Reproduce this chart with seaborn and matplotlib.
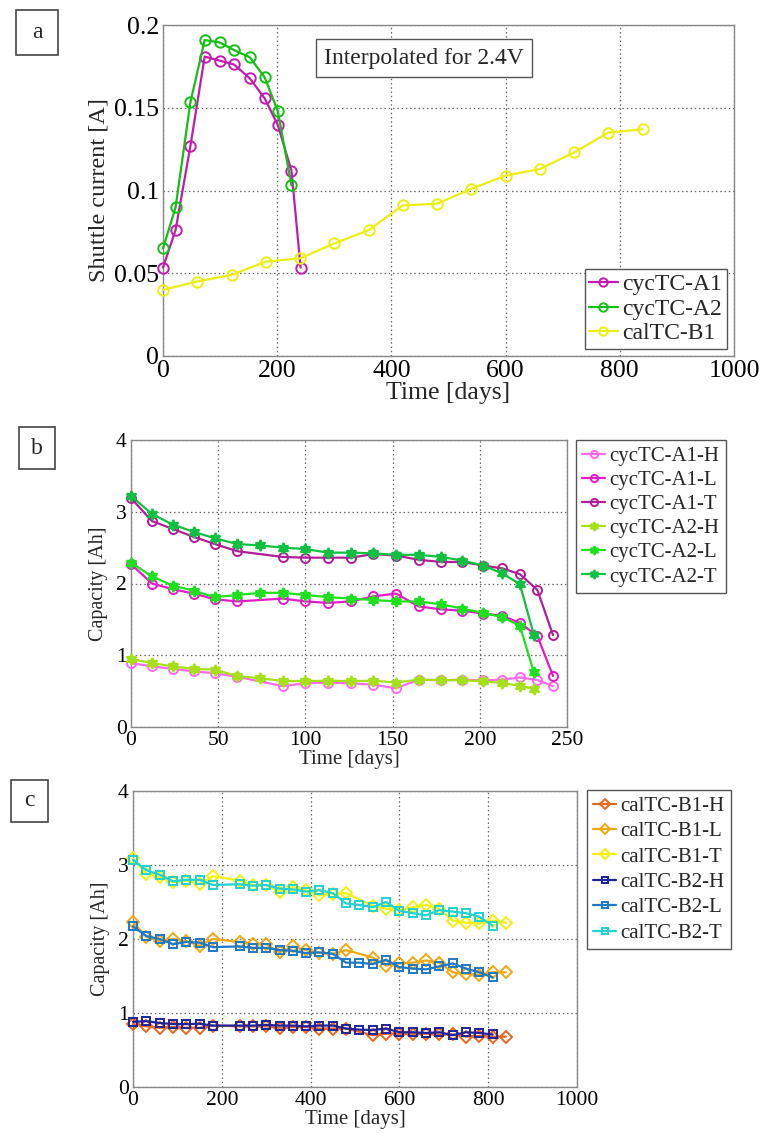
import matplotlib
matplotlib.use("Agg")
import matplotlib.pyplot as plt
import seaborn as sns
import numpy as np
from matplotlib.patches import Rectangle

sns.set_style("white")
plt.rcParams['font.family'] = ['Liberation Serif', 'DejaVu Serif']

# ---------------- Panel a: shuttle current ----------------
a_days_A1 = [0, 22, 48, 73, 99, 124, 152, 178, 201, 225, 241]
a_cur_A1 = [0.0534, 0.0761, 0.1269, 0.1809, 0.1785, 0.1762, 0.1678, 0.1557, 0.1396, 0.112, 0.0534]
a_days_A2 = [0, 22, 48, 73, 99, 124, 152, 178, 201, 225]
a_cur_A2 = [0.065, 0.0898, 0.1533, 0.1909, 0.1895, 0.1849, 0.1805, 0.1684, 0.148, 0.1031]
a_days_B1 = [0, 60, 120, 180, 240, 300, 360, 420, 480, 540, 600, 660, 720, 780, 840]
a_cur_B1 = [0.040, 0.045, 0.049, 0.057, 0.059, 0.068, 0.076, 0.091, 0.092, 0.101, 0.109, 0.113, 0.123, 0.135, 0.137]
a_labels = ['cycTC-A1', 'cycTC-A2', 'calTC-B1']
a_yticklabels = ['0', '0.05', '0.1', '0.15', '0.2']

# ---------------- Panel b: cycTC capacities ----------------
b_days_A1 = [0, 12, 24, 36, 48, 61, 87, 100, 113, 126, 139, 152, 165, 178, 190, 202, 213, 223, 233, 242]
b_days_A2 = [0, 12, 24, 36, 48, 61, 74, 87, 100, 113, 126, 139, 152, 165, 178, 190, 202, 213, 223, 231]
b_A1_H = [0.89, 0.845, 0.81, 0.775, 0.75, 0.70, 0.57, 0.61, 0.62, 0.61, 0.59, 0.54, 0.66, 0.65, 0.66, 0.65, 0.66, 0.69, 0.655, 0.57]
b_A1_L = [2.27, 2.00, 1.92, 1.86, 1.78, 1.75, 1.79, 1.75, 1.73, 1.75, 1.82, 1.86, 1.68, 1.64, 1.62, 1.58, 1.55, 1.45, 1.27, 0.71]
b_A1_T = [3.19, 2.87, 2.76, 2.65, 2.55, 2.45, 2.37, 2.36, 2.36, 2.36, 2.41, 2.39, 2.33, 2.30, 2.30, 2.25, 2.21, 2.13, 1.91, 1.28]
b_A2_H = [0.95, 0.89, 0.845, 0.81, 0.80, 0.71, 0.68, 0.64, 0.64, 0.645, 0.64, 0.645, 0.62, 0.66, 0.655, 0.65, 0.64, 0.61, 0.576, 0.53]
b_A2_L = [2.29, 2.10, 1.97, 1.90, 1.81, 1.84, 1.87, 1.87, 1.84, 1.81, 1.79, 1.77, 1.75, 1.75, 1.71, 1.65, 1.59, 1.53, 1.41, 0.76]
b_A2_T = [3.22, 2.97, 2.82, 2.72, 2.63, 2.55, 2.53, 2.50, 2.48, 2.43, 2.43, 2.42, 2.40, 2.40, 2.37, 2.32, 2.25, 2.14, 1.99, 1.28]
b_labels = ['cycTC-A1-H', 'cycTC-A1-L', 'cycTC-A1-T', 'cycTC-A2-H', 'cycTC-A2-L', 'cycTC-A2-T']

# ---------------- Panel c: calTC capacities ----------------
c_days_B1 = [0, 30, 60, 90, 120, 150, 180, 240, 270, 300, 330, 360, 390, 420, 450, 480,
             540, 570, 600, 630, 660, 690, 720, 750, 780, 810, 840]
c_days_B2 = [0, 30, 60, 90, 120, 150, 180, 240, 270, 300, 330, 360, 390, 420, 450, 480,
             510, 540, 570, 600, 630, 660, 690, 720, 750, 780, 810]
c_B1_H = [0.85, 0.82, 0.80, 0.81, 0.80, 0.80, 0.83, 0.82, 0.82, 0.82, 0.80, 0.81, 0.81, 0.79, 0.79, 0.79,
          0.70, 0.72, 0.72, 0.72, 0.72, 0.71, 0.71, 0.68, 0.69, 0.68, 0.68]
c_B1_L = [2.23, 2.03, 1.97, 2.00, 1.97, 1.91, 2.00, 1.96, 1.93, 1.93, 1.82, 1.90, 1.85, 1.81, 1.80, 1.85,
          1.75, 1.64, 1.67, 1.68, 1.71, 1.68, 1.55, 1.53, 1.52, 1.55, 1.55]
c_B1_T = [3.09, 2.88, 2.84, 2.77, 2.79, 2.74, 2.85, 2.79, 2.73, 2.73, 2.64, 2.70, 2.66, 2.59, 2.61, 2.62,
          2.45, 2.41, 2.39, 2.43, 2.46, 2.41, 2.25, 2.22, 2.21, 2.25, 2.22]
c_B2_H = [0.88, 0.89, 0.865, 0.85, 0.85, 0.855, 0.83, 0.83, 0.83, 0.84, 0.83, 0.83, 0.82, 0.83, 0.83, 0.79,
          0.775, 0.77, 0.79, 0.74, 0.74, 0.73, 0.74, 0.70, 0.74, 0.73, 0.71]
c_B2_L = [2.17, 2.04, 2.00, 1.93, 1.96, 1.95, 1.89, 1.90, 1.88, 1.88, 1.85, 1.84, 1.81, 1.82, 1.80, 1.68,
          1.68, 1.66, 1.72, 1.62, 1.60, 1.59, 1.63, 1.67, 1.60, 1.55, 1.48]
c_B2_T = [3.07, 2.93, 2.87, 2.78, 2.80, 2.80, 2.73, 2.74, 2.72, 2.73, 2.68, 2.67, 2.64, 2.66, 2.62, 2.48,
          2.46, 2.43, 2.50, 2.38, 2.35, 2.32, 2.39, 2.37, 2.35, 2.30, 2.18]
c_labels = ['calTC-B1-H', 'calTC-B1-L', 'calTC-B1-T', 'calTC-B2-H', 'calTC-B2-L', 'calTC-B2-T']

STAR6 = (6, 1, 0)

W, H = 760, 1133
fig = plt.figure(figsize=(W / 100, H / 100), dpi=100)


def fbox(l, t, r, b):
    return [l / W, 1 - b / H, (r - l) / W, (b - t) / H]


def style(ax, xlim, xticks, ylim, yticks, fs, yticklabels=None):
    ax.set_xlim(*xlim)
    ax.set_ylim(*ylim)
    ax.set_xticks(xticks)
    ax.set_yticks(yticks)
    if yticklabels is not None:
        ax.set_yticklabels(yticklabels)
    ax.grid(True, linestyle=(0, (1.2, 2.2)), color='#666666', linewidth=0.9)
    ax.set_axisbelow(True)
    for s in ax.spines.values():
        s.set_color('#888888')
        s.set_linewidth(1.0)
    ax.tick_params(direction='in', length=4, width=0.8, color='#888888',
                   labelcolor='black', labelsize=fs, pad=3)


def draw(ax, x, y, color, marker, label, ms, filled=False, lw=1.6):
    sns.lineplot(x=x, y=y, ax=ax, color=color, marker=marker, label=label,
                 markersize=ms, markerfacecolor=(color if filled else 'none'),
                 markeredgecolor=color, markeredgewidth=1.4, linewidth=lw,
                 errorbar=None, sort=False, clip_on=False, zorder=3)


def frame(leg):
    leg.get_frame().set_edgecolor('#555555')
    leg.get_frame().set_linewidth(1)


# ---------- panel a ----------
axa = fig.add_axes(fbox(163, 25, 734, 356))
draw(axa, a_days_A1, a_cur_A1, '#C21BB0', 'o', a_labels[0], 7.5)
draw(axa, a_days_A2, a_cur_A2, '#14C014', 'o', a_labels[1], 7.5)
draw(axa, a_days_B1, a_cur_B1, '#EEEE10', 'o', a_labels[2], 7.5)
style(axa, (0, 1000), np.arange(0, 1001, 200), (0, 0.2), [0, 0.05, 0.1, 0.15, 0.2], 18.5, a_yticklabels)
axa.set_xlabel('Time [days]', fontsize=18.5, labelpad=0)
axa.set_ylabel('Shuttle current [A]', fontsize=17.5, labelpad=3)
axa.text(0.4565, 0.9, 'Interpolated for 2.4V', transform=axa.transAxes, ha='center', va='center',
         fontsize=17, bbox=dict(boxstyle='square,pad=0.35', facecolor='white', edgecolor='#555555', linewidth=1))
leg = axa.legend(loc='lower right', fontsize=17, handlelength=1.2, handletextpad=0.2,
                 labelspacing=0.12, borderpad=0.2, borderaxespad=0.3, fancybox=False, framealpha=1,
                 markerscale=0.8)
frame(leg)

# ---------- panel b ----------
axb = fig.add_axes(fbox(131, 440, 567, 727))
draw(axb, b_days_A1, b_A1_H, '#FF6AF0', 'o', b_labels[0], 6.5)
draw(axb, b_days_A1, b_A1_L, '#E21CC8', 'o', b_labels[1], 6.5)
draw(axb, b_days_A1, b_A1_T, '#B01E9A', 'o', b_labels[2], 6.5)
draw(axb, b_days_A2, b_A2_H, '#A6E01A', STAR6, b_labels[3], 8, filled=True)
draw(axb, b_days_A2, b_A2_L, '#1EE01E', STAR6, b_labels[4], 8, filled=True)
draw(axb, b_days_A2, b_A2_T, '#10C040', STAR6, b_labels[5], 8, filled=True)
style(axb, (0, 250), np.arange(0, 251, 50), (0, 4), [0, 1, 2, 3, 4], 15.5)
axb.set_xlabel('Time [days]', fontsize=15, labelpad=0)
axb.set_ylabel('Capacity [Ah]', fontsize=14.5, labelpad=6)
leg = axb.legend(loc='upper left', bbox_to_anchor=(576 / W, 1 - 440 / H), bbox_transform=fig.transFigure,
                 fontsize=15, handlelength=1.1, handletextpad=0.2, labelspacing=0.22, borderpad=0.3,
                 borderaxespad=0, fancybox=False, framealpha=1, markerscale=0.8)
frame(leg)

# ---------- panel c ----------
axc = fig.add_axes(fbox(133, 791, 577, 1087))
draw(axc, c_days_B1, c_B1_H, '#E8661E', 'D', c_labels[0], 6.5)
draw(axc, c_days_B1, c_B1_L, '#F0A812', 'D', c_labels[1], 6.5)
draw(axc, c_days_B1, c_B1_T, '#F2F010', 'D', c_labels[2], 6.5)
draw(axc, c_days_B2, c_B2_H, '#22229A', 's', c_labels[3], 6)
draw(axc, c_days_B2, c_B2_L, '#1E78C8', 's', c_labels[4], 6)
draw(axc, c_days_B2, c_B2_T, '#22D2D2', 's', c_labels[5], 6)
style(axc, (0, 1000), np.arange(0, 1001, 200), (0, 4), [0, 1, 2, 3, 4], 15.5)
axc.set_xlabel('Time [days]', fontsize=15, labelpad=0)
axc.set_ylabel('Capacity [Ah]', fontsize=14.5, labelpad=6)
leg = axc.legend(loc='upper left', bbox_to_anchor=(587 / W, 1 - 790 / H), bbox_transform=fig.transFigure,
                 fontsize=15, handlelength=1.1, handletextpad=0.2, labelspacing=0.28, borderpad=0.3,
                 borderaxespad=0, fancybox=False, framealpha=1, markerscale=0.8)
frame(leg)

# ---------- panel letters ----------
for letter, (l, t, r, b) in [('a', (16, 10, 58, 55)), ('b', (19, 427, 55, 469)), ('c', (11, 780, 48, 822))]:
    fig.patches.append(Rectangle((l / W, 1 - b / H), (r - l) / W, (b - t) / H, transform=fig.transFigure,
                                 facecolor='white', edgecolor='#444444', linewidth=1.2))
    fig.text((l + r) / 2 / W, 1 - (t + b) / 2 / H, letter, ha='center', va='center', fontsize=17)

fig.savefig('out.png', dpi=100)
